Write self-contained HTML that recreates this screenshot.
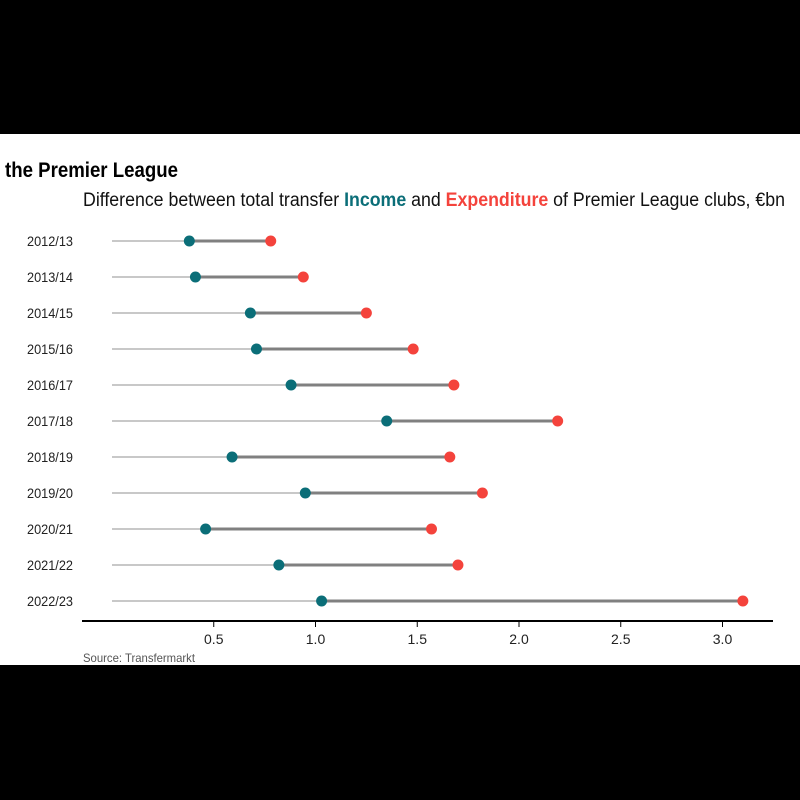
<!DOCTYPE html>
<html><head><meta charset="utf-8"><style>
body{margin:0;background:#000;width:800px;height:800px;overflow:hidden}
svg{display:block;font-family:"Liberation Sans Narrow","Liberation Sans",sans-serif}
</style></head><body>
<svg id="c" width="800" height="800">
<rect x="0" y="0" width="800" height="800" fill="#000"/>
<rect x="0" y="134" width="800" height="531" fill="#fff"/>
<text x="5" y="177" font-size="21" font-weight="bold" fill="#000" textLength="173" lengthAdjust="spacingAndGlyphs">the Premier League</text>
<text x="83" y="206" font-size="19" fill="#111" textLength="702" lengthAdjust="spacingAndGlyphs">Difference between total transfer <tspan fill="#0b6e78" font-weight="bold">Income</tspan> and <tspan fill="#f4433c" font-weight="bold">Expenditure</tspan> of Premier League clubs, €bn</text>
<line x1="82" x2="773" y1="621" y2="621" stroke="#000" stroke-width="2"/>
<text x="83" y="662" font-size="12" fill="#555" textLength="112" lengthAdjust="spacingAndGlyphs">Source: Transfermarkt</text>
<g id="g"></g>
</svg>
<script>
const seasons=["2012/13","2013/14","2014/15","2015/16","2016/17","2017/18","2018/19","2019/20","2020/21","2021/22","2022/23"];
const income=[0.38,0.41,0.68,0.71,0.88,1.35,0.59,0.95,0.46,0.82,1.03];
const expenditure=[0.78,0.94,1.25,1.48,1.68,2.19,1.66,1.82,1.57,1.70,3.10];
const ticks=[0.5,1.0,1.5,2.0,2.5,3.0];
const tickLabels=["0.5","1.0","1.5","2.0","2.5","3.0"];
const NS="http://www.w3.org/2000/svg",g=document.getElementById('g');
const x=v=>112+v*203.5, y=i=>241+i*36;
function mk(t,a,p){const e=document.createElementNS(NS,t);for(const k in a)e.setAttribute(k,a[k]);(p||g).appendChild(e);return e;}
ticks.forEach((t,i)=>{
 const l=mk('line',{x1:x(t),x2:x(t),y1:621,y2:627,stroke:'#000','stroke-width':1});
 
 
 const tx=mk('text',{x:x(t),y:644,'font-size':14,'text-anchor':'middle',fill:'#222'});
 tx.textContent=tickLabels[i];
 
 
});
seasons.forEach((s,i)=>{
 const yy=y(i);
 const lb=mk('text',{x:27,y:yy+5,'font-size':14,fill:'#222',textLength:46,lengthAdjust:'spacingAndGlyphs'});
 lb.textContent=s;
 
 
 const bl=mk('line',{x1:x(0),x2:x(income[i]),y1:yy,y2:yy,stroke:'#c8c8c8','stroke-width':2});
 
 
 const d=mk('line',{x1:x(income[i]),x2:x(expenditure[i]),y1:yy,y2:yy,stroke:'#808080','stroke-width':3});
 
 
 const ci=mk('circle',{cx:x(income[i]),cy:yy,r:5.5,fill:'#0b6e78'});
 
 
 const ce=mk('circle',{cx:x(expenditure[i]),cy:yy,r:5.5,fill:'#f4433c'});
 
 
});
</script>
</body></html>
